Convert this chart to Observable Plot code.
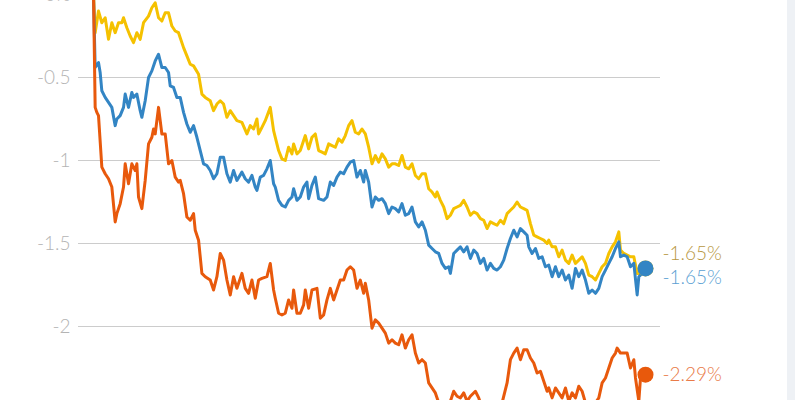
<!DOCTYPE html>
<html>
<head>
<meta charset="utf-8">
<script src="https://cdn.jsdelivr.net/npm/d3@7"></script>
<script src="https://cdn.jsdelivr.net/npm/@observablehq/plot@0.6"></script>
<style>
  html, body { margin: 0; padding: 0; background: #ffffff; overflow: hidden; }
  #wrap { position: relative; width: 795px; height: 400px; overflow: hidden; }
  #band { position: absolute; left: 787px; top: 0; width: 8px; height: 400px; background: #eef1f5; }
</style>
</head>
<body>
<div id="wrap"><div id="band"></div></div>
<script>
// ---- data (cumulative change, %) ----
const yellowDay = [0,1,3,5,7,9,11,13,15,17,18,20,22,24,26,28,30,33,35,37,39,41,43,45,47,49,51,52,54,56,58,60,63,65,67,70,72,74,76,78,80,82,84,86,89,92,94,96,98,99,101,103,106,108,109,111,113,115,117,119,120,122,124,126,127,129,131,133,135,137,139,141,143,145,147,149,151,153,155,157,159,161,163,165,167,169,171,173,175,177,179,181,183,185,187,189,191,193,195,197,199,201,203,205,206,208,210,212,214,216,218,220,222,224,226,228,230,232,234,236,238,240,242,244,246,248,250,252,254,256,258,260,262,264,266,268,270,272,273,275,277,279,281,283,285,287,289,291,293,295,297,299,301,303,305,307,309,311,313,315,316,318,320,322,324,326,328,331];
const yellowVal = [0,-0.23,-0.10,-0.17,-0.14,-0.27,-0.17,-0.23,-0.17,-0.17,-0.14,-0.20,-0.25,-0.29,-0.23,-0.27,-0.17,-0.13,-0.08,-0.05,-0.14,-0.16,-0.11,-0.11,-0.19,-0.22,-0.23,-0.26,-0.32,-0.37,-0.42,-0.43,-0.48,-0.60,-0.62,-0.64,-0.70,-0.66,-0.64,-0.66,-0.74,-0.70,-0.73,-0.76,-0.77,-0.84,-0.79,-0.81,-0.75,-0.84,-0.80,-0.76,-0.68,-0.82,-0.86,-0.94,-0.99,-1.00,-0.92,-0.96,-0.90,-0.96,-0.94,-0.88,-0.85,-0.93,-0.86,-0.84,-0.94,-0.95,-0.96,-0.90,-0.91,-0.92,-0.87,-0.89,-0.85,-0.79,-0.76,-0.83,-0.84,-0.81,-0.84,-0.92,-1.02,-0.97,-1.01,-0.96,-0.99,-1.04,-1.02,-1.02,-1.03,-0.97,-1.04,-1.05,-1.02,-1.09,-1.11,-1.08,-1.08,-1.17,-1.19,-1.22,-1.19,-1.24,-1.28,-1.35,-1.33,-1.29,-1.28,-1.27,-1.24,-1.28,-1.33,-1.31,-1.32,-1.35,-1.36,-1.41,-1.37,-1.38,-1.39,-1.36,-1.38,-1.32,-1.30,-1.28,-1.25,-1.28,-1.29,-1.30,-1.38,-1.45,-1.46,-1.47,-1.48,-1.50,-1.48,-1.52,-1.52,-1.58,-1.54,-1.60,-1.62,-1.57,-1.62,-1.60,-1.58,-1.62,-1.69,-1.70,-1.72,-1.68,-1.64,-1.62,-1.56,-1.52,-1.49,-1.43,-1.54,-1.56,-1.57,-1.58,-1.58,-1.68,-1.68,-1.65];

const blueDay = [0,1,3,4,5,7,9,11,13,14,16,18,19,21,23,24,26,28,29,31,33,35,37,39,41,43,45,46,48,50,52,54,56,58,60,62,64,66,68,70,72,74,76,78,80,82,84,86,89,91,93,95,97,98,100,102,104,106,108,109,111,113,115,117,119,120,122,124,126,128,129,131,133,135,138,140,142,144,146,148,150,152,154,156,158,160,162,163,165,167,169,171,173,175,177,179,181,183,185,187,189,191,193,195,197,199,201,203,205,207,209,211,213,214,216,218,220,222,224,226,228,230,232,234,236,238,240,242,244,246,248,250,252,254,256,258,260,261,263,265,267,269,271,273,275,277,279,281,283,285,287,289,291,293,295,297,299,301,303,305,307,309,311,313,315,316,318,320,322,324,326,327,329,331];
const blueVal = [0,-0.44,-0.41,-0.47,-0.58,-0.62,-0.65,-0.68,-0.79,-0.75,-0.73,-0.68,-0.60,-0.68,-0.59,-0.62,-0.60,-0.70,-0.74,-0.64,-0.50,-0.46,-0.40,-0.36,-0.44,-0.44,-0.47,-0.55,-0.56,-0.62,-0.62,-0.71,-0.78,-0.83,-0.79,-0.86,-0.94,-1.02,-1.03,-1.06,-1.11,-1.08,-0.98,-0.98,-1.08,-1.13,-1.06,-1.12,-1.07,-1.11,-1.13,-1.09,-1.16,-1.18,-1.10,-1.09,-1.05,-1.00,-1.14,-1.16,-1.24,-1.27,-1.28,-1.24,-1.22,-1.17,-1.24,-1.22,-1.16,-1.13,-1.23,-1.15,-1.10,-1.23,-1.24,-1.22,-1.13,-1.15,-1.10,-1.07,-1.08,-1.04,-1.01,-1.00,-1.10,-1.06,-1.13,-1.06,-1.13,-1.28,-1.22,-1.24,-1.23,-1.26,-1.32,-1.28,-1.29,-1.31,-1.26,-1.33,-1.32,-1.28,-1.37,-1.40,-1.37,-1.42,-1.51,-1.53,-1.55,-1.56,-1.62,-1.65,-1.64,-1.68,-1.56,-1.54,-1.52,-1.55,-1.52,-1.59,-1.54,-1.56,-1.62,-1.59,-1.66,-1.62,-1.65,-1.66,-1.64,-1.60,-1.53,-1.47,-1.42,-1.46,-1.41,-1.43,-1.45,-1.52,-1.56,-1.53,-1.59,-1.58,-1.64,-1.63,-1.70,-1.64,-1.70,-1.66,-1.72,-1.69,-1.77,-1.65,-1.70,-1.66,-1.72,-1.80,-1.78,-1.80,-1.77,-1.70,-1.66,-1.62,-1.58,-1.53,-1.49,-1.58,-1.57,-1.58,-1.64,-1.62,-1.81,-1.70,-1.68,-1.65];

const orangeDay = [0,1,2,3,5,7,9,11,13,14,16,18,19,21,23,25,26,27,29,31,33,35,36,37,39,41,43,45,47,49,51,52,54,56,58,60,61,63,65,67,70,72,74,76,78,80,82,84,86,89,91,93,95,97,99,101,104,106,108,109,111,113,115,117,119,120,122,124,126,127,129,131,134,136,138,140,142,144,146,148,150,152,154,156,158,160,162,163,165,167,169,171,173,175,177,179,181,183,185,187,189,191,193,195,197,199,201,203,205,207,209,211,213,215,216,218,220,222,224,226,229,231,233,236,239,242,245,248,250,252,254,256,258,260,262,264,266,268,270,272,273,275,277,279,281,283,285,287,289,291,293,295,298,301,303,305,307,309,311,313,314,316,318,320,322,324,325,327,328,330,331];
const orangeVal = [0,-0.68,-0.71,-0.73,-1.04,-1.08,-1.11,-1.16,-1.37,-1.32,-1.26,-1.16,-1.02,-1.14,-1.02,-1.06,-1.02,-1.22,-1.29,-1.12,-0.90,-0.86,-0.81,-0.84,-0.68,-0.84,-0.84,-1.02,-1.00,-1.10,-1.13,-1.12,-1.20,-1.34,-1.36,-1.32,-1.42,-1.48,-1.68,-1.70,-1.72,-1.78,-1.70,-1.56,-1.60,-1.72,-1.81,-1.70,-1.77,-1.68,-1.77,-1.80,-1.72,-1.83,-1.72,-1.71,-1.70,-1.62,-1.78,-1.83,-1.92,-1.93,-1.92,-1.84,-1.89,-1.78,-1.92,-1.92,-1.87,-1.78,-1.89,-1.78,-1.77,-1.95,-1.93,-1.84,-1.77,-1.84,-1.78,-1.72,-1.72,-1.66,-1.64,-1.66,-1.77,-1.72,-1.80,-1.74,-1.84,-2.01,-1.96,-1.98,-2.01,-2.04,-2.10,-2.08,-2.10,-2.11,-2.05,-2.13,-2.08,-2.05,-2.16,-2.22,-2.20,-2.22,-2.34,-2.37,-2.40,-2.46,-2.51,-2.54,-2.48,-2.42,-2.39,-2.42,-2.43,-2.40,-2.45,-2.42,-2.39,-2.43,-2.49,-2.52,-2.48,-2.51,-2.46,-2.34,-2.20,-2.16,-2.13,-2.20,-2.14,-2.14,-2.19,-2.22,-2.28,-2.27,-2.33,-2.39,-2.37,-2.43,-2.37,-2.40,-2.43,-2.37,-2.45,-2.40,-2.43,-2.36,-2.39,-2.46,-2.49,-2.46,-2.43,-2.34,-2.31,-2.25,-2.19,-2.16,-2.13,-2.16,-2.16,-2.16,-2.25,-2.20,-2.31,-2.45,-2.31,-2.27,-2.29];

const yTicks = [0, -0.5, -1, -1.5, -2];
const tickLabels = ["0%", "-0.5", "-1", "-1.5", "-2"];

const seriesNames = ["yellow", "blue", "orange"];
const lineColors = ["#f5c100", "#3385c4", "#e8590c"];
const labelColors = ["#b8973f", "#5b9fd3", "#e97a47"];
const labelDy = [-14, 10, 0];

// ---- build tables ----
const days = [yellowDay, blueDay, orangeDay];
const vals = [yellowVal, blueVal, orangeVal];
const tables = days.map((ds, i) => ds.map((d, j) => ({day: d, value: vals[i][j], name: seriesNames[i]})));
const ends = tables.map((t, i) => ({...t[t.length - 1], i}));

const marks = [
  Plot.gridY(yTicks, {stroke: "#cccccc", strokeOpacity: 1, strokeWidth: 1.2, insetLeft: -15, insetRight: -15}),
  Plot.axisY(yTicks, {
    tickSize: 0, tickPadding: 23,
    tickFormat: d => tickLabels[yTicks.indexOf(d)],
    fontSize: 19, fontWeight: 300, fill: "#b4b4b4", label: null
  })
];
tables.forEach((t, i) => {
  marks.push(Plot.line(t, {x: "day", y: "value", stroke: lineColors[i], strokeWidth: 3, strokeLinejoin: "round"}));
});
ends.forEach((e, i) => {
  marks.push(Plot.dot([e], {x: "day", y: "value", r: 8, fill: lineColors[i], stroke: "none"}));
});
ends.forEach((e, i) => {
  marks.push(Plot.text([e], {
    x: "day", y: "value", text: d => d.value.toFixed(2) + "%",
    textAnchor: "start", dx: 17, dy: labelDy[i], fill: labelColors[i], fontSize: 19, fontWeight: 300
  }));
});

const chart = Plot.plot({
  width: 795,
  height: 400,
  marginLeft: 93,
  marginRight: 150,
  marginTop: 0,
  marginBottom: 0,
  style: {fontFamily: "Lato, 'Open Sans', sans-serif", background: "transparent", overflow: "hidden"},
  x: {domain: [0, 331], axis: null},
  y: {domain: [-2, 0], range: [326, -6], axis: null},
  marks
});
document.getElementById("wrap").prepend(chart);
</script>
</body>
</html>
